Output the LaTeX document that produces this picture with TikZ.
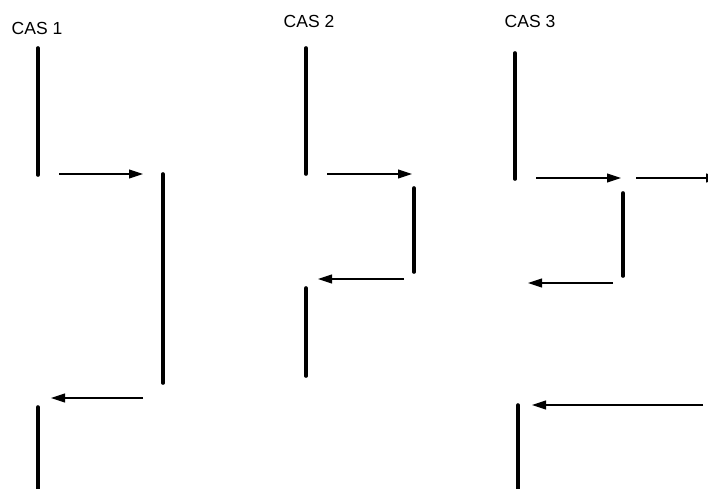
\documentclass[tikz,border=0pt]{standalone}
\usepackage{fontspec}
\setmainfont{Liberation Sans}
\usetikzlibrary{arrows.meta}
\begin{document}
\begin{tikzpicture}[x=1pt,y=-1pt,
  wall/.style={line width=3.6pt,line cap=round},
  msg/.style={line width=1.1pt,-{Triangle[length=14pt,width=9pt]}},
  title/.style={font=\fontsize{17.5}{19}\selectfont,inner sep=0pt}]
\useasboundingbox (0,0) rectangle (708,488);
\clip (0,0) rectangle (708,488);

% case titles
\node[title] (t1) at (37,28) {CAS 1};
\node[title] (t2) at (309,21) {CAS 2};
\node[title] (t3) at (530,21) {CAS 3};

% CAS 1
\coordinate (a1) at (38,48);  \coordinate (a2) at (38,175);
\coordinate (b1) at (163,174); \coordinate (b2) at (163,383);
\coordinate (c1) at (38,407); \coordinate (c2) at (38,500);
\coordinate (m1s) at (59,174); \coordinate (m1e) at (143,174);
\coordinate (m2s) at (143,398); \coordinate (m2e) at (51,398);
\draw[wall] (a1) -- (a2);
\draw[wall] (b1) -- (b2);
\draw[wall] (c1) -- (c2);
\draw[msg] (m1s) -- (m1e);
\draw[msg] (m2s) -- (m2e);

% CAS 2
\coordinate (d1) at (306,48);  \coordinate (d2) at (306,174);
\coordinate (e1) at (414,188); \coordinate (e2) at (414,272);
\coordinate (f1) at (306,288); \coordinate (f2) at (306,376);
\coordinate (m3s) at (327,174); \coordinate (m3e) at (412,174);
\coordinate (m4s) at (404,279); \coordinate (m4e) at (318,279);
\draw[wall] (d1) -- (d2);
\draw[wall] (e1) -- (e2);
\draw[wall] (f1) -- (f2);
\draw[msg] (m3s) -- (m3e);
\draw[msg] (m4s) -- (m4e);

% CAS 3
\coordinate (g1) at (515,53);  \coordinate (g2) at (515,179);
\coordinate (h1) at (623,193); \coordinate (h2) at (623,276);
\coordinate (k1) at (518,405); \coordinate (k2) at (518,500);
\coordinate (m5s) at (536,178); \coordinate (m5e) at (621,178);
\coordinate (m6s) at (636,178); \coordinate (m6e) at (720,178);
\coordinate (m7s) at (613,283); \coordinate (m7e) at (528,283);
\coordinate (m8s) at (703,405); \coordinate (m8e) at (532,405);
\draw[wall] (g1) -- (g2);
\draw[wall] (h1) -- (h2);
\draw[wall] (k1) -- (k2);
\draw[msg] (m5s) -- (m5e);
\draw[msg] (m6s) -- (m6e);
\draw[msg] (m7s) -- (m7e);
\draw[msg] (m8s) -- (m8e);
\end{tikzpicture}
\end{document}
